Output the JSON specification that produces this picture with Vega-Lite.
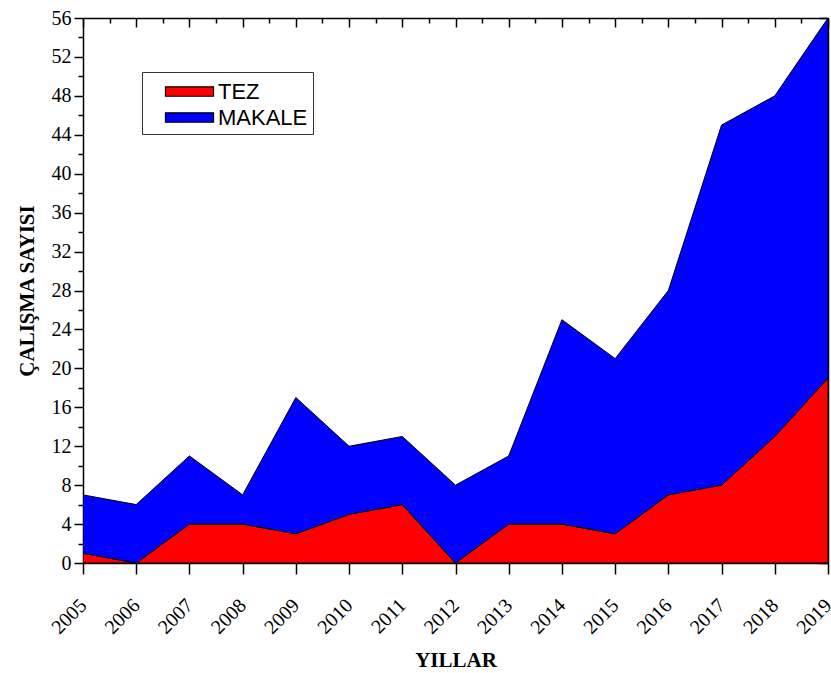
{
  "$schema": "https://vega.github.io/schema/vega-lite/v6.json",
  "width": 745,
  "height": 545,
  "autosize": {"type": "none"},
  "padding": {"left": 83, "top": 18, "right": 3, "bottom": 110},
  "background": "white",
  "config": {
    "view": {"stroke": null},
    "axis": {
      "domainColor": "black",
      "domainWidth": 1.5,
      "tickColor": "black",
      "tickWidth": 1.5,
      "grid": false,
      "labelFont": "Liberation Serif",
      "labelFontSize": 20,
      "labelColor": "black",
      "titleFont": "Liberation Serif",
      "titleFontSize": 21,
      "titleFontWeight": "bold",
      "titleColor": "black"
    }
  },
  "data": {
    "values": [
      {"year": 2005, "series": "TEZ", "value": 1},
      {"year": 2006, "series": "TEZ", "value": 0},
      {"year": 2007, "series": "TEZ", "value": 4},
      {"year": 2008, "series": "TEZ", "value": 4},
      {"year": 2009, "series": "TEZ", "value": 3},
      {"year": 2010, "series": "TEZ", "value": 5},
      {"year": 2011, "series": "TEZ", "value": 6},
      {"year": 2012, "series": "TEZ", "value": 0},
      {"year": 2013, "series": "TEZ", "value": 4},
      {"year": 2014, "series": "TEZ", "value": 4},
      {"year": 2015, "series": "TEZ", "value": 3},
      {"year": 2016, "series": "TEZ", "value": 7},
      {"year": 2017, "series": "TEZ", "value": 8},
      {"year": 2018, "series": "TEZ", "value": 13},
      {"year": 2019, "series": "TEZ", "value": 19},
      {"year": 2005, "series": "MAKALE", "value": 6},
      {"year": 2006, "series": "MAKALE", "value": 6},
      {"year": 2007, "series": "MAKALE", "value": 7},
      {"year": 2008, "series": "MAKALE", "value": 3},
      {"year": 2009, "series": "MAKALE", "value": 14},
      {"year": 2010, "series": "MAKALE", "value": 7},
      {"year": 2011, "series": "MAKALE", "value": 7},
      {"year": 2012, "series": "MAKALE", "value": 8},
      {"year": 2013, "series": "MAKALE", "value": 7},
      {"year": 2014, "series": "MAKALE", "value": 21},
      {"year": 2015, "series": "MAKALE", "value": 18},
      {"year": 2016, "series": "MAKALE", "value": 21},
      {"year": 2017, "series": "MAKALE", "value": 37},
      {"year": 2018, "series": "MAKALE", "value": 35},
      {"year": 2019, "series": "MAKALE", "value": 37}
    ]
  },
  "resolve": {"axis": {"x": "independent", "y": "independent"}},
  "layer": [
    {
      "mark": {"type": "area", "opacity": 1, "stroke": "black", "strokeWidth": 1, "clip": true},
      "encoding": {
        "x": {
          "field": "year", "type": "quantitative",
          "scale": {"domain": [2005, 2019], "nice": false, "zero": false},
          "axis": {
            "title": "YILLAR",
            "titlePadding": 12,
            "values": [2005, 2005.5, 2006, 2006.5, 2007, 2007.5, 2008, 2008.5, 2009, 2009.5, 2010, 2010.5, 2011, 2011.5, 2012, 2012.5, 2013, 2013.5, 2014, 2014.5, 2015, 2015.5, 2016, 2016.5, 2017, 2017.5, 2018, 2018.5, 2019],
            "format": "d",
            "labelExpr": "datum.value % 1 ? '' : datum.label",
            "labelAngle": -45,
            "labelAlign": "right",
            "labelBaseline": "middle",
            "labelPadding": 28,
            "tickSize": {"condition": {"test": "datum.value % 1", "value": 6}, "value": 11},
            "labelFlush": false,
            "labelOverlap": false
          }
        },
        "y": {
          "field": "value", "type": "quantitative", "stack": "zero",
          "scale": {"domain": [0, 56], "nice": false},
          "axis": {
            "title": "ÇALIŞMA SAYISI",
            "titlePadding": 14,
            "values": [0, 2, 4, 6, 8, 10, 12, 14, 16, 18, 20, 22, 24, 26, 28, 30, 32, 34, 36, 38, 40, 42, 44, 46, 48, 50, 52, 54, 56],
            "labelExpr": "datum.value % 4 ? '' : datum.label",
            "tickSize": {"condition": {"test": "datum.value % 4", "value": 5}, "value": 9},
            "labelPadding": 3,
            "labelFlush": false,
            "labelOverlap": false
          }
        },
        "color": {
          "field": "series", "type": "nominal",
          "scale": {"domain": ["TEZ", "MAKALE"], "range": ["#ff0000", "#0000ff"]},
          "legend": {
            "title": null,
            "orient": "none",
            "legendX": 59,
            "legendY": 54,
            "direction": "vertical",
            "strokeColor": "#333333",
            "fillColor": "white",
            "padding": 5,
            "symbolType": "M-1.78,-0.35H1.78V0.35H-1.78Z",
            "symbolSize": 729,
            "symbolStrokeColor": "black",
            "symbolStrokeWidth": 1.2,
            "symbolOpacity": 1,
            "symbolOffset": 28,
            "labelFont": "Liberation Sans",
            "labelFontSize": 22,
            "labelColor": "black",
            "labelOffset": 14,
            "rowPadding": 0
          }
        },
        "order": {"field": "series", "sort": "descending"}
      }
    },
    {
      "mark": {"type": "point", "opacity": 0},
      "encoding": {
        "x": {
          "field": "year", "type": "quantitative",
          "axis": {
            "orient": "top", "title": null, "labels": false,
            "values": [2005, 2005.5, 2006, 2006.5, 2007, 2007.5, 2008, 2008.5, 2009, 2009.5, 2010, 2010.5, 2011, 2011.5, 2012, 2012.5, 2013, 2013.5, 2014, 2014.5, 2015, 2015.5, 2016, 2016.5, 2017, 2017.5, 2018, 2018.5, 2019],
            "tickSize": {"condition": {"test": "datum.value % 1", "value": -5}, "value": -9}
          }
        },
        "y": {
          "field": "value", "type": "quantitative",
          "axis": {
            "orient": "right", "title": null, "labels": false,
            "values": [0, 2, 4, 6, 8, 10, 12, 14, 16, 18, 20, 22, 24, 26, 28, 30, 32, 34, 36, 38, 40, 42, 44, 46, 48, 50, 52, 54, 56],
            "tickSize": {"condition": {"test": "datum.value % 4", "value": -5}, "value": -9}
          }
        }
      }
    }
  ]
}
